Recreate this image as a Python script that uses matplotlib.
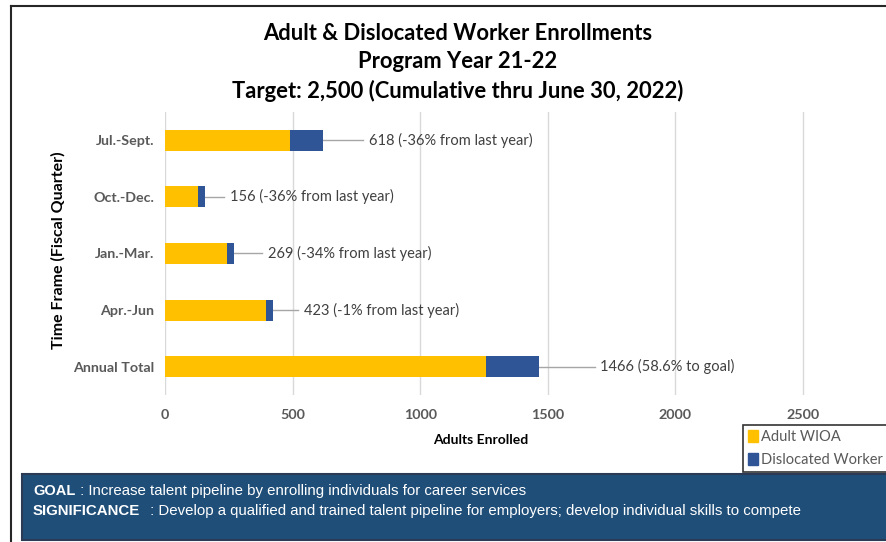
import matplotlib
matplotlib.use("Agg")
from matplotlib import pyplot as plt
from matplotlib.patches import Rectangle, Patch
from matplotlib.lines import Line2D

# data
quarters = ["Jul.-Sept.", "Oct.-Dec.", "Jan.-Mar.", "Apr.-Jun", "Annual Total"]
adult_wioa = [490, 128, 243, 395, 1256]
dislocated = [128, 28, 26, 28, 210]
totals = [618, 156, 269, 423, 1466]
notes = ["(-36% from last year)", "(-36% from last year)", "(-34% from last year)",
         "(-1% from last year)", "(58.6% to goal)"]
label_x = [799, 255, 404, 545, 1705]
xticks = [0, 500, 1000, 1500, 2000, 2500]

W, H = 886, 542
plt.rcParams['font.family'] = ['Lato', 'DejaVu Sans']

fig = plt.figure(figsize=(W / 100, H / 100), dpi=100)
ax = fig.add_axes([165 / W, 1 - 395 / H, 1 - 165 / W, (395 - 112) / H])

ypos = list(range(len(quarters)))
ax.barh(ypos, adult_wioa, height=0.37, color="#FFC000", label="Adult WIOA", zorder=3)
ax.barh(ypos, dislocated, left=adult_wioa, height=0.37, color="#2F5597",
        label="Dislocated Worker", zorder=3)

# leader lines + data labels
for i in ypos:
    ax.plot([totals[i], label_x[i] - 22], [i, i], color="#A6A6A6", lw=1, zorder=2)
    ax.text(label_x[i], i, f"{totals[i]} {notes[i]}", va="center", ha="left",
            fontsize=10.5, color="#404040")

ax.set_xlim(0, 721 / 0.2552)
ax.set_ylim(4.5, -0.5)
ax.set_xticks(xticks, [str(t) for t in xticks])
ax.set_yticks(ypos, quarters)
ax.grid(axis="x", color="#D9D9D9", lw=1, zorder=0)
for s in ax.spines.values():
    s.set_visible(False)
ax.tick_params(length=0, colors="#595959", labelsize=10.3)
ax.tick_params(axis="x", pad=10)
ax.tick_params(axis="y", pad=8)
for lab in ax.get_xticklabels() + ax.get_yticklabels():
    lab.set_fontweight("bold")

# axis titles
fig.text(58 / W, 1 - 250 / H, "Time Frame (Fiscal Quarter)", rotation=90, ha="center",
         va="center", fontsize=11.5, fontweight="bold", color="black")
fig.text(481 / W, 1 - 440 / H, "Adults Enrolled", ha="center", va="center",
         fontsize=10, fontweight="bold", color="black")

# chart titles
title_lines = ["Adult & Dislocated Worker Enrollments", "Program Year 21-22",
               "Target: 2,500 (Cumulative thru June 30, 2022)"]
for txt, y in zip(title_lines, [34, 62, 91]):
    fig.text(458 / W, 1 - y / H, txt, ha="center", va="center", fontsize=15.8,
             fontweight="bold", color="black")

# legend
handles = [Patch(color="#FFC000"), Patch(color="#2F5597")]
leg = fig.legend(handles, ["Adult WIOA", "Dislocated Worker"], loc="upper left",
                 bbox_to_anchor=(743 / W, 1 - 425 / H), fancybox=False, frameon=True,
                 edgecolor="black", fontsize=10.5, handlelength=0.65, handleheight=0.9,
                 handletextpad=0.25, labelspacing=0.6, borderpad=0.35, borderaxespad=0)
for t in leg.get_texts():
    t.set_color("#595959")
leg.get_frame().set_linewidth(1.2)

# frame lines
fig.add_artist(Line2D([11 / W, 11 / W], [0, 1 - 6 / H], color="#262626", lw=1.5))
fig.add_artist(Line2D([11 / W, 1], [1 - 6 / H, 1 - 6 / H], color="#262626", lw=1.5))

# goal box
fig.add_artist(Rectangle((22 / W, 2 / H), 1, (540 - 474) / H, transform=fig.transFigure,
                         facecolor="#1F4E79", edgecolor="#2B3A55", lw=1.5))
sans = ['Liberation Sans', 'DejaVu Sans']
fig.text(33 / W, 1 - 491 / H, "GOAL", family=sans,
         fontweight="bold", fontsize=10.5, color="white", va="center")
fig.text(76 / W, 1 - 491 / H, " : Increase talent pipeline by enrolling individuals for career services",
         family=sans, fontsize=10.8, color="white", va="center")
fig.text(33 / W, 1 - 511 / H, "SIGNIFICANCE", family=sans,
         fontweight="bold", fontsize=10.8, color="white", va="center")
fig.text(146 / W, 1 - 511 / H, " : Develop a qualified and trained talent pipeline for employers; develop individual skills to compete",
         family=sans, fontsize=10.8, color="white", va="center")

fig.savefig("out.png", dpi=100)
